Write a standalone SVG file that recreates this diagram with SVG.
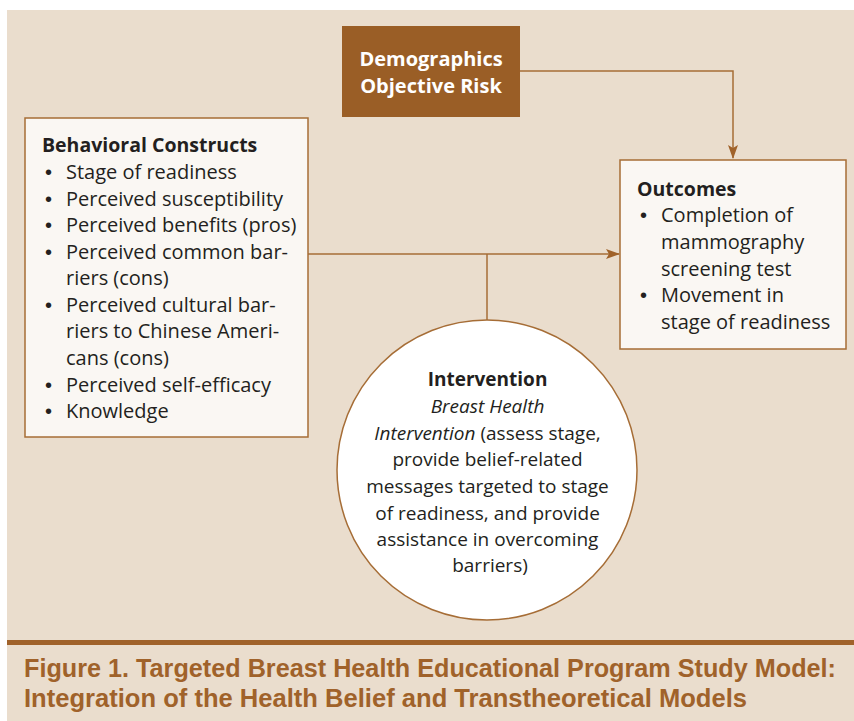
<svg xmlns="http://www.w3.org/2000/svg" width="854" height="721" viewBox="0 0 854 721">
<defs>
<style>
.t{font-family:"Open Sans","Liberation Sans",sans-serif;font-size:20px;fill:#231f20}
.c{font-size:19px}
.h{font-size:19.5px}
.u{font-family:"Liberation Sans",sans-serif;font-size:20px;fill:#231f20}
.b{font-weight:bold}
.i{font-style:italic}
.box{fill:#faf7f3;stroke:#a66d36;stroke-width:1.5}
.ln{fill:none;stroke:#a66d36;stroke-width:1.5}
.cap{font-family:"Liberation Sans",sans-serif;font-weight:bold;font-size:22.5px;fill:#a0622a}
</style>
<marker id="ah" markerWidth="14" markerHeight="10" refX="13" refY="5" orient="auto" markerUnits="userSpaceOnUse">
<path d="M0,0 L14,5 L0,10 L3,5 Z" fill="#a0622a"/>
</marker>
</defs>
<rect x="0" y="0" width="854" height="721" fill="#ffffff"/>
<rect x="7" y="10" width="847" height="711" fill="#eaddcd"/>
<g id="connectors">
<path class="ln" d="M520,71 H733 V158" marker-end="url(#ah)"/>
<path class="ln" d="M308,254 H619" marker-end="url(#ah)"/>
<path class="ln" d="M487,254 V321"/>
</g>
<g id="demographics">
<rect x="342" y="26" width="178" height="91" fill="#9a5e26"/>
<text class="t b" x="431" y="66" text-anchor="middle" style="fill:#ffffff">Demographics</text>
<text class="t b" x="431" y="93" text-anchor="middle" style="fill:#ffffff">Objective Risk</text>
</g>
<g id="behavioral">
<rect class="box" x="25" y="118" width="283" height="319"/>
<text class="t b h" x="42" y="152">Behavioral Constructs</text>
<text class="u" x="45" y="179">•</text><text class="t" x="66" y="179">Stage of readiness</text>
<text class="u" x="45" y="206">•</text><text class="t" x="66" y="206">Perceived susceptibility</text>
<text class="u" x="45" y="232">•</text><text class="t" x="66" y="232">Perceived benefits (pros)</text>
<text class="u" x="45" y="259">•</text><text class="t" x="66" y="259">Perceived common bar-</text>
<text class="t" x="66" y="285">riers (cons)</text>
<text class="u" x="45" y="312">•</text><text class="t" x="66" y="312">Perceived cultural bar-</text>
<text class="t" x="66" y="338">riers to Chinese Ameri-</text>
<text class="t" x="66" y="365">cans (cons)</text>
<text class="u" x="45" y="392">•</text><text class="t" x="66" y="392">Perceived self-efficacy</text>
<text class="u" x="45" y="418">•</text><text class="t" x="66" y="418">Knowledge</text>
</g>
<g id="outcomes">
<rect class="box" x="620" y="160" width="226" height="189"/>
<text class="t b h" x="637" y="196">Outcomes</text>
<text class="u" x="640" y="222">•</text><text class="t" x="661" y="222">Completion of</text>
<text class="t" x="661" y="249">mammography</text>
<text class="t" x="661" y="276">screening test</text>
<text class="u" x="640" y="302">•</text><text class="t" x="661" y="302">Movement in</text>
<text class="t" x="661" y="329">stage of readiness</text>
</g>
<g id="intervention">
<circle cx="487" cy="470" r="150" fill="#ffffff" stroke="#a66d36" stroke-width="1.5"/>
<text class="t c" text-anchor="middle">
<tspan class="b" x="490" y="386">Intervention</tspan>
<tspan class="i" x="490" y="413">Breast Health</tspan>
<tspan x="490" y="440"><tspan class="i">Intervention</tspan> (assess stage,</tspan>
<tspan x="490" y="466">provide belief-related</tspan>
<tspan x="490" y="493">messages targeted to stage</tspan>
<tspan x="490" y="520">of readiness, and provide</tspan>
<tspan x="490" y="546">assistance in overcoming</tspan>
<tspan x="490" y="572">barriers)</tspan>
</text>
</g>
<g id="caption">
<rect x="7" y="640" width="847" height="5" fill="#a0622a"/>
<text class="cap" transform="translate(24,677) scale(1,1.15)" x="0" y="0" textLength="812" lengthAdjust="spacingAndGlyphs">Figure 1. Targeted Breast Health Educational Program Study Model:</text>
<text class="cap" transform="translate(24,707) scale(1,1.15)" x="0" y="0" textLength="723" lengthAdjust="spacingAndGlyphs">Integration of the Health Belief and Transtheoretical Models</text>
</g>
</svg>
